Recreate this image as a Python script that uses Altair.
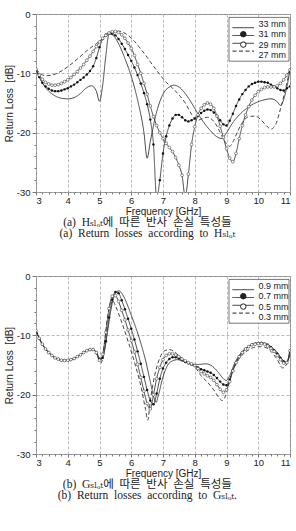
import altair as alt
import pandas as pd

# ---------------- data ----------------
FREQ_TICKS = [3, 4, 5, 6, 7, 8, 9, 10, 11]
RL_TICKS = [0, -10, -20, -30]
FREQ_MINOR = [round(3 + 0.2 * i, 1) for i in range(41) if i % 5 != 0]
RL_MINOR = [v for v in range(-28, 0, 2) if v % 10 != 0]

FREQ_STEP = [round(3 + 0.1 * i, 1) for i in range(81)]  # simulation grid, 0.1 GHz

# (a) H_slot
LABELS_A = ["33 mm", "31 mm", "29 mm", "27 mm"]
F_33 = [3.0, 3.2, 3.4, 3.6, 3.8, 4.0, 4.2, 4.4, 4.6, 4.75, 4.9, 5.0, 5.1, 5.2, 5.3,
        5.4, 5.6, 5.8, 6.0, 6.2, 6.4, 6.5, 6.6, 6.8, 7.0, 7.2, 7.35, 7.5, 7.7, 7.9,
        8.1, 8.3, 8.5, 8.7, 8.85, 9.0, 9.2, 9.5, 9.8, 10.1, 10.4, 10.6, 10.7, 10.85, 11.0]
RL_33 = [-9.3, -11.6, -13.0, -13.8, -14.2, -14.3, -14.1, -13.4, -12.4, -12.1, -13.0, -14.7, -12.0, -7.0, -3.4,
         -3.5, -5.0, -7.5, -10.5, -14.5, -20.0, -24.3, -21.5, -16.5, -13.5, -12.3, -12.0, -12.3, -13.4, -15.0,
         -16.8, -18.4, -19.7, -20.7, -21.0, -20.0, -18.3, -16.5, -15.3, -14.6, -14.3, -14.8, -15.4, -13.5, -9.5]
RL_31 = [-9.3, -10.6, -11.6, -12.2, -12.6, -12.9, -13.0, -13.0, -12.9, -12.7,
         -12.5, -12.2, -11.9, -11.5, -11.1, -10.7, -10.2, -9.6, -8.8, -7.4,
         -5.6, -4.2, -3.5, -3.2, -3.3, -3.6, -4.2, -5.0, -5.9, -6.9,
         -7.9, -9.0, -10.3, -11.7, -13.3, -15.2, -17.8, -22.0, -31.0, -28.0,
         -23.5, -20.6, -18.8, -17.6, -17.0, -17.0, -17.4, -17.9, -18.1, -17.9,
         -17.6, -17.2, -16.7, -16.3, -16.1, -16.2, -16.6, -17.2, -17.9, -18.6,
         -18.8, -18.0, -16.8, -15.5, -14.4, -13.5, -12.8, -12.2, -11.8, -11.6,
         -11.4, -11.4, -11.5, -11.6, -11.9, -12.2, -12.5, -12.8, -12.9, -12.5,
         -12.2]
RL_29 = [-9.3, -10.3, -11.0, -11.5, -11.8, -12.0, -12.0, -11.9, -11.7, -11.4,
         -11.1, -10.7, -10.2, -9.7, -9.1, -8.5, -7.8, -7.1, -6.3, -5.5,
         -4.7, -4.1, -3.6, -3.2, -3.0, -2.95, -3.1, -3.5, -4.1, -4.9,
         -5.8, -7.0, -8.5, -10.0, -11.7, -13.5, -15.5, -17.3, -18.8, -20.0,
         -21.0, -21.8, -22.5, -23.2, -24.2, -25.5, -27.2, -30.8, -27.0, -22.0,
         -19.0, -17.0, -15.9, -15.3, -15.0, -15.2, -15.9, -17.2, -18.9, -20.8,
         -22.7, -24.3, -24.9, -23.5, -21.0, -18.8, -17.0, -15.6, -14.5, -13.7,
         -13.1, -12.7, -12.4, -12.3, -12.3, -12.3, -12.1, -11.7, -11.1, -10.3,
         -9.4]
F_27 = [3.0, 3.15, 3.3, 3.5, 3.7, 4.0, 4.3, 4.6, 4.9, 5.1, 5.3, 5.45, 5.6, 5.75, 5.9,
        6.1, 6.3, 6.5, 6.7, 6.9, 7.1, 7.3, 7.5, 7.7, 7.9, 8.0, 8.1, 8.25, 8.4, 8.55,
        8.7, 8.85, 9.0, 9.1, 9.2, 9.35, 9.5, 9.7, 9.9, 10.1, 10.25, 10.4, 10.55, 10.7, 10.85, 11.0]
RL_27 = [-9.3, -10.1, -10.4, -10.3, -9.9, -8.9, -7.6, -6.2, -5.0, -4.2, -3.4, -3.0, -2.9, -3.1, -3.6,
         -4.6, -5.9, -7.3, -8.8, -10.2, -11.5, -12.5, -13.6, -15.0, -16.9, -17.6, -17.9, -17.6, -17.4, -17.8,
         -18.9, -20.5, -21.9, -22.3, -21.6, -19.8, -18.3, -17.3, -17.2, -17.9, -18.8, -19.4, -18.6, -16.0, -12.8, -9.3]

# (b) G_slot
LABELS_B = ["0.9 mm", "0.7 mm", "0.5 mm", "0.3 mm"]
F_09 = [3.0, 3.2, 3.4, 3.6, 3.8, 4.0, 4.2, 4.4, 4.6, 4.8, 4.9, 5.05, 5.15, 5.25, 5.35,
        5.45, 5.55, 5.62, 5.7, 5.85, 6.0, 6.15, 6.3, 6.45, 6.6, 6.72, 6.78, 6.85, 7.0, 7.15,
        7.3, 7.45, 7.65, 7.85, 8.0, 8.15, 8.35, 8.55, 8.75, 8.9, 9.0, 9.1, 9.25, 9.45, 9.7,
        9.95, 10.15, 10.4, 10.6, 10.8, 10.9, 11.0]
RL_09 = [-9.2, -11.5, -12.9, -13.8, -14.2, -14.2, -13.9, -13.3, -12.6, -12.4, -12.9, -14.1, -12.8, -9.5, -6.0,
         -3.5, -2.6, -2.5, -2.9, -4.5, -6.6, -8.8, -11.3, -14.2, -17.8, -20.6, -21.3, -20.2, -17.0, -15.0,
         -14.3, -14.1, -14.4, -14.8, -14.9, -14.9, -14.8, -15.2, -16.3, -17.3, -17.6, -16.8, -14.8, -13.0, -11.9,
         -11.3, -11.3, -11.9, -12.9, -14.3, -14.5, -12.3]
RL_07 = [-9.2, -10.5, -11.5, -12.3, -12.9, -13.4, -13.8, -14.0, -14.2, -14.25,
         -14.2, -14.1, -13.9, -13.6, -13.3, -12.9, -12.6, -12.4, -12.4, -12.9,
         -14.0, -13.8, -11.0, -7.0, -4.0, -2.7, -2.9, -4.1, -5.6, -7.2,
         -8.9, -10.7, -12.7, -14.8, -17.0, -19.2, -21.0, -21.6, -19.8, -17.3,
         -15.6, -14.6, -14.0, -13.7, -13.7, -13.9, -14.2, -14.5, -14.7, -14.9,
         -15.1, -15.4, -15.7, -15.9, -16.1, -16.3, -16.7, -17.2, -17.8, -18.3,
         -18.4, -17.5, -15.9, -14.6, -13.6, -12.9, -12.3, -11.9, -11.6, -11.4,
         -11.3, -11.3, -11.4, -11.6, -12.0, -12.5, -13.1, -13.8, -14.4, -14.6,
         -12.8]
RL_05 = [-9.2, -10.5, -11.5, -12.3, -12.9, -13.4, -13.8, -14.0, -14.2, -14.25,
         -14.2, -14.1, -13.9, -13.6, -13.3, -12.9, -12.6, -12.4, -12.4, -12.9,
         -14.2, -13.2, -9.5, -5.5, -3.4, -3.3, -4.3, -5.8, -7.4, -9.1,
         -10.9, -12.8, -14.9, -17.1, -19.4, -21.5, -22.4, -20.0, -17.3, -15.4,
         -14.1, -13.4, -13.1, -13.1, -13.3, -13.6, -14.0, -14.3, -14.6, -14.8,
         -15.1, -15.6, -16.1, -16.5, -16.8, -17.1, -17.6, -18.3, -19.1, -19.6,
         -19.2, -17.8, -16.0, -14.6, -13.6, -12.9, -12.3, -11.9, -11.6, -11.5,
         -11.4, -11.4, -11.5, -11.8, -12.2, -12.7, -13.4, -14.1, -14.7, -14.6,
         -12.6]
F_03 = [3.0, 3.2, 3.4, 3.6, 3.8, 4.0, 4.2, 4.4, 4.6, 4.8, 4.9, 5.05, 5.15, 5.25, 5.35,
        5.42, 5.5, 5.7, 5.9, 6.1, 6.3, 6.45, 6.52, 6.6, 6.75, 6.9, 7.05, 7.2, 7.35, 7.55,
        7.8, 8.0, 8.2, 8.4, 8.6, 8.75, 8.87, 8.97, 9.1, 9.3, 9.5, 9.75, 10.0, 10.2, 10.4,
        10.6, 10.77, 10.9, 11.0]
RL_03 = [-9.2, -11.5, -12.9, -13.8, -14.2, -14.2, -13.9, -13.3, -12.6, -12.4, -13.0, -14.7, -11.5, -7.0, -4.5,
         -4.2, -5.0, -7.8, -11.0, -14.5, -18.5, -22.5, -24.3, -21.0, -16.5, -13.8, -12.6, -12.4, -12.7, -13.7,
         -14.6, -15.3, -16.8, -17.9, -19.2, -20.4, -21.0, -20.2, -17.5, -14.8, -13.3, -12.3, -11.9, -12.0, -12.7,
         -14.1, -15.5, -14.8, -13.2]

SP = "\u2002"  # wide word spacing as in the printed captions
CAPTION_A = [SP.join(["(a)", "H\u209b\u2097\u2092\u209c\uc5d0", "\ub530\ub978", "\ubc18\uc0ac",
                      "\uc190\uc2e4", "\ud2b9\uc131\ub4e4"]),
             SP.join(["(a)", "Return", "losses", "according", "to", "H\u209b\u2097\u2092\u209c"])]
CAPTION_B = [SP.join(["(b)", "G\u209b\u2097\u2092\u209c\uc5d0", "\ub530\ub978", "\ubc18\uc0ac",
                      "\uc190\uc2e4", "\ud2b9\uc131\ub4e4"]),
             SP.join(["(b)", "Return", "losses", "according", "to", "G\u209b\u2097\u2092\u209c."])]


def table(labels, series):
    rows = []
    for lab, (xs, ys) in zip(labels, series):
        for x, y in zip(xs, ys):
            rows.append({"series": lab, "f": x, "rl": y})
    return pd.DataFrame(rows)


df_a = table(LABELS_A, [(F_33, RL_33), (FREQ_STEP, RL_31), (FREQ_STEP, RL_29), (F_27, RL_27)])
df_b = table(LABELS_B, [(F_09, RL_09), (FREQ_STEP, RL_07), (FREQ_STEP, RL_05), (F_03, RL_03)])

# ---------------- styling ----------------
SANS = "Liberation Sans"
SERIF = "Liberation Serif, DejaVu Serif, Noto Sans CJK KR"
INK = "#222222"
LINE = "#333333"
DASHES = [[1, 0], [1, 0], [1, 0], [4, 2.5]]

xscale = alt.Scale(domain=[3, 11], nice=False, zero=False)
yscale = alt.Scale(domain=[-30, 0], nice=False, zero=False)


def panel(df, labels, caption, lab_pad, title_pad, cap_off):
    x_major = alt.X("f:Q", scale=xscale, axis=alt.Axis(
        values=FREQ_TICKS, orient="bottom", title="Frequency [GHz]", grid=True,
        tickSize=3, labelPadding=lab_pad, titlePadding=title_pad, format="d"))
    y_major = alt.Y("rl:Q", scale=yscale, axis=alt.Axis(
        values=RL_TICKS, orient="left", title="Return Loss\u00a0 [dB]", grid=True,
        tickSize=4, labelPadding=2, titlePadding=2,
        labelExpr="'' + datum.value"))
    x_minor = alt.X("f:Q", scale=xscale, axis=alt.Axis(
        values=FREQ_MINOR, orient="bottom", title=None, grid=False, labels=False, tickSize=2))
    y_minor = alt.Y("rl:Q", scale=yscale, axis=alt.Axis(
        values=RL_MINOR, orient="left", title=None, grid=False, labels=False, tickSize=2))
    x_none = alt.X("f:Q", scale=xscale, axis=None)
    y_none = alt.Y("rl:Q", scale=yscale, axis=None)
    dash = alt.StrokeDash("series:N", scale=alt.Scale(domain=labels, range=DASHES), legend=None)

    lines = alt.Chart(df).mark_line(interpolate="monotone", clip=True, color=LINE,
                                    strokeWidth=0.9).encode(
        x=x_minor, y=y_minor, detail="series:N", strokeDash=dash)
    filled = alt.Chart(df).transform_filter(alt.datum.series == labels[1]).mark_circle(
        size=6, color="#111111", opacity=1, clip=True).encode(x=x_major, y=y_major)
    hollow = alt.Chart(df).transform_filter(alt.datum.series == labels[2]).mark_point(
        shape="circle", size=8, filled=True, fill="white", stroke="#444444", strokeWidth=0.6,
        opacity=1, clip=True).encode(x=x_none, y=y_none)

    # inset legend (box, line sample, marker, label)
    leg_df = pd.DataFrame({"series": labels, "row": [0, 1, 2, 3]})
    y_leg = alt.Y("row:O", scale=alt.Scale(domain=[0, 1, 2, 3], range=[9.8, 41.0], padding=0),
                  axis=None)
    box = alt.Chart(leg_df.head(1)).mark_rect(fill="white", stroke="#555555", strokeWidth=0.8).encode(
        x=alt.value(193), x2=alt.value(253), y=alt.value(3.4), y2=alt.value(47.2))
    leg_lines = alt.Chart(leg_df).mark_rule(color=INK, strokeWidth=1).encode(
        x=alt.value(196.5), x2=alt.value(218), y=y_leg, strokeDash=dash)
    leg_marks = alt.Chart(leg_df).transform_filter(
        (alt.datum.series == labels[1]) | (alt.datum.series == labels[2])).mark_point(
        shape="circle", filled=True, size=30, stroke=INK, strokeWidth=1, opacity=1).encode(
        x=alt.value(207.3), y=y_leg,
        fill=alt.Fill("series:N", scale=alt.Scale(domain=[labels[1], labels[2]], range=[INK, "white"]),
                      legend=None))
    leg_text = alt.Chart(leg_df).mark_text(align="left", baseline="middle", font=SANS, fontSize=9,
                                           color=INK).encode(
        x=alt.value(222.5), y=y_leg, text="series:N")

    return alt.layer(lines, filled, hollow, box, leg_lines, leg_marks, leg_text).resolve_axis(
        x="independent", y="independent").resolve_scale(y="independent").properties(
        width=254, height=178,
        title=alt.TitleParams(text=caption, orient="bottom", anchor="middle", frame="bounds",
                              font=SERIF, fontSize=11.5, fontWeight="normal", color=INK,
                              lineHeight=11.4, offset=cap_off))


top = panel(df_a, LABELS_A, CAPTION_A, 0, 2, 0)
bottom = panel(df_b, LABELS_B, CAPTION_B, 0, 2, 0)

chart = alt.vconcat(top, bottom, spacing=30).resolve_scale(
    strokeDash="independent", fill="independent"
).properties(
    padding={"left": 3, "top": 8, "right": 2, "bottom": 2}
).configure_view(stroke="#888888", strokeWidth=1).configure_axis(
    domain=False, gridDash=[3, 2], gridColor="#a8a8a8", gridWidth=0.8,
    tickColor="#777777", labelFont=SANS, labelFontSize=9.5, labelColor=INK,
    titleFont=SANS, titleFontSize=10, titleFontWeight="normal", titleColor=INK,
)

chart.save("out.html", embed_options={"renderer": "svg", "actions": False})
